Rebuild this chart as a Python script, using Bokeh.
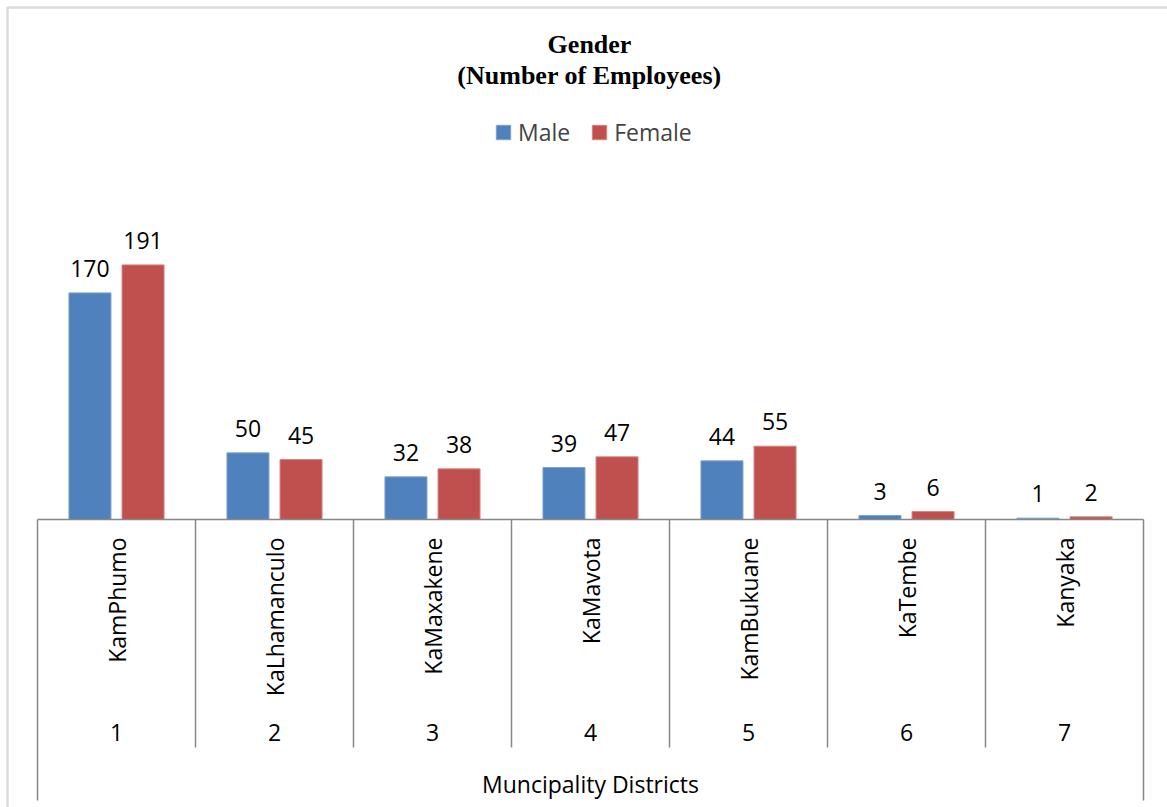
import math
from bokeh.plotting import figure
from bokeh.models import (Range1d, ColumnDataSource, LabelSet, Label, Legend,
                          LegendItem, BoxAnnotation)
from bokeh.core.properties import value
from bokeh.embed import file_html
from bokeh.resources import INLINE

# ---------------- data ----------------
districts = ["KamPhumo", "KaLhamanculo", "KaMaxakene", "KaMavota",
             "KamBukuane", "KaTembe", "Kanyaka"]
district_numbers = ["1", "2", "3", "4", "5", "6", "7"]
male = [170, 50, 32, 39, 44, 3, 1]
female = [191, 45, 38, 47, 55, 6, 2]
series_names = ["Male", "Female"]
title_lines = ["Gender", "(Number of Employees)"]
axis_title = "Muncipality Districts"

# ---------------- layout (pixels) ----------------
W, H = 1167, 807
AXIS_PX = 519          # baseline position from top
LEFT_PX = 37           # left edge of category axis
CAT_PX = 158           # width of one category
PX_PER_VAL = 1.333     # pixels per employee

def ydata(py):
    return (AXIS_PX - py) / PX_PER_VAL

def xdata(px):
    return (px - LEFT_PX) / CAT_PX

MALE_C = "#4F81BD"
FEMALE_C = "#C0504D"
GRAY = "#878787"
FONT = "Open Sans"

p = figure(width=W, height=H, output_backend="svg", toolbar_location=None,
           x_axis_type=None, y_axis_type=None, min_border=0,
           x_range=Range1d(xdata(0), xdata(W)),
           y_range=Range1d(ydata(H), ydata(0)))
p.grid.visible = False
p.outline_line_color = None
p.background_fill_color = "white"
p.border_fill_color = "white"

# outer chart border
p.add_layout(BoxAnnotation(left=xdata(7), top=ydata(7), right=xdata(W + 20),
                           bottom=ydata(H + 20), fill_alpha=0,
                           line_color="#8a8a8a", line_width=2.5))

n = len(districts)
centers = [i + 0.5 for i in range(n)]
off = 0.168
bw = 0.266
src = ColumnDataSource(dict(
    xm=[c - off for c in centers], xf=[c + off for c in centers],
    male=male, female=female,
    ml=[str(v) for v in male], fl=[str(v) for v in female],
))

rm = p.vbar(x="xm", top="male", bottom=0, width=bw, source=src,
            fill_color=MALE_C, line_color="#7fa3d0", line_width=1)
rf = p.vbar(x="xf", top="female", bottom=0, width=bw, source=src,
            fill_color=FEMALE_C, line_color="#d68583", line_width=1)

for col, xcol in (("ml", "xm"), ("fl", "xf")):
    ycol = "male" if col == "ml" else "female"
    p.add_layout(LabelSet(x=xcol, y=ycol, text=col, source=src, y_offset=16,
                          text_align="center", text_baseline="bottom",
                          text_font=value(FONT), text_font_size="23px",
                          text_color="black"))

# category axis: baseline and separators
bounds = list(range(n + 1))
p.segment(x0=[0], y0=[0], x1=[n], y1=[0], line_color=GRAY, line_width=1.5)
inner = bounds[1:-1]
p.segment(x0=inner, y0=[0] * len(inner), x1=inner, y1=[ydata(747)] * len(inner),
          line_color=GRAY, line_width=1.5)
outer = [bounds[0], bounds[-1]]
p.segment(x0=outer, y0=[0, 0], x1=outer, y1=[ydata(800)] * 2,
          line_color=GRAY, line_width=1.5)

# category labels
p.text(x=centers, y=[ydata(537)] * n, text=districts, angle=math.pi / 2,
       text_align="right", text_baseline="middle",
       text_font=value(FONT), text_font_size="23px", text_color="black")
p.text(x=centers, y=[ydata(732)] * n, text=district_numbers,
       text_align="center", text_baseline="middle",
       text_font=value(FONT), text_font_size="23px", text_color="black")
p.text(x=[n / 2], y=[ydata(783)], text=[axis_title],
       text_align="center", text_baseline="middle",
       text_font=value(FONT), text_font_size="23px", text_color="black")

# title
for i, t in enumerate(title_lines):
    p.add_layout(Label(x=xdata(589), y=ydata(44 + 31 * i), text=t,
                       text_align="center", text_baseline="middle",
                       text_font="Liberation Serif", text_font_style="bold",
                       text_font_size="26px", text_color="black"))

# legend
legend = Legend(items=[LegendItem(label=series_names[0], renderers=[rm]),
                       LegendItem(label=series_names[1], renderers=[rf])],
                orientation="horizontal", location=(490, H - 152),
                border_line_alpha=0, background_fill_alpha=0,
                glyph_width=18, glyph_height=18, label_standoff=6,
                spacing=20, padding=4, margin=0,
                label_text_font=FONT, label_text_font_size="23px")
p.add_layout(legend, "center")

open("out.html", "w").write(file_html(p, INLINE))
